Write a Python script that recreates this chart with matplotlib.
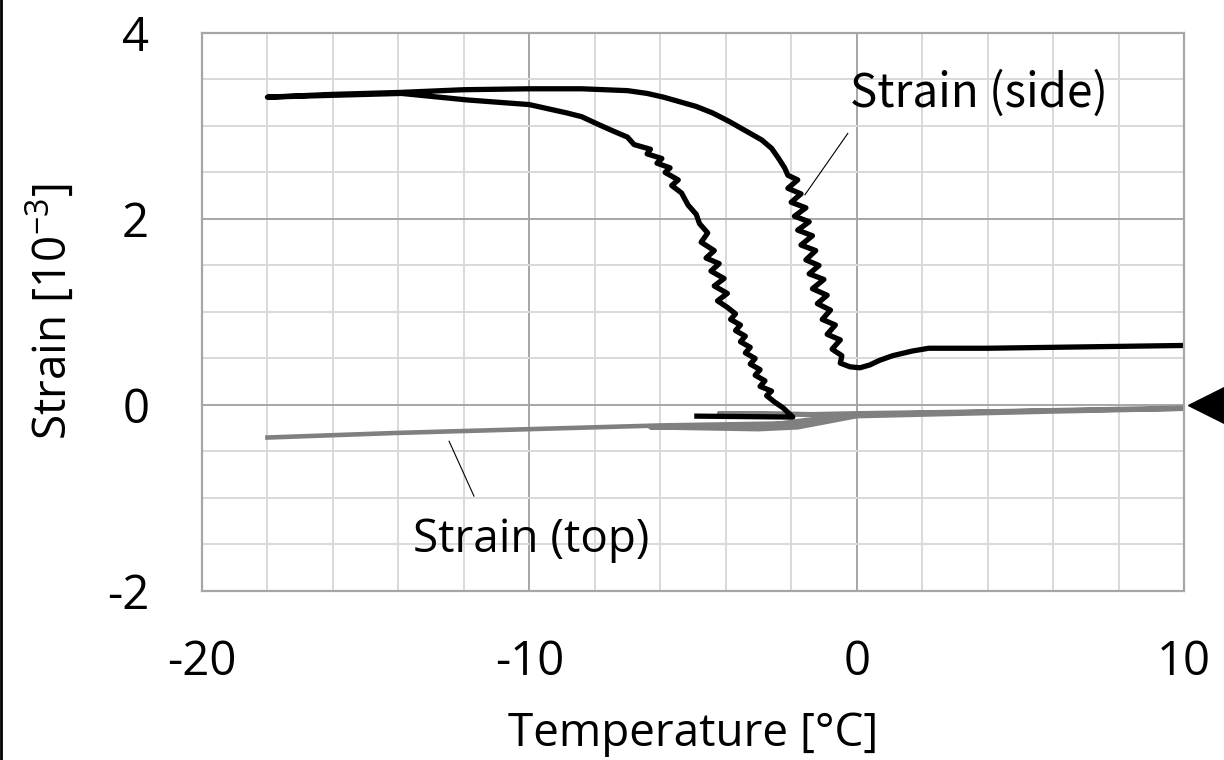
import matplotlib
matplotlib.use('Agg')
import matplotlib.pyplot as plt
from matplotlib.ticker import MultipleLocator
from matplotlib.lines import Line2D

plt.rcParams['font.family'] = ['Open Sans', 'DejaVu Sans']
plt.rcParams['mathtext.default'] = 'regular'
plt.rcParams['axes.unicode_minus'] = False

# === Data ====================================================================
# black loop: Strain (side)
side_temp = [-4.88, -1.95, -2.1, -2.25, -2.5, -2.75, -2.6, -2.95, -2.8, -3.1,
             -2.95, -3.25, -3.1, -3.4, -3.25, -3.55, -3.4, -3.7, -3.55, -3.85,
             -3.7, -3.95, -4.25, -3.95, -4.35, -4.05, -4.45, -4.2, -4.6, -4.35,
             -4.75, -4.55, -4.8, -4.9, -5.15, -5.35, -5.65, -5.45, -5.85, -5.7,
             -6.1, -5.95, -6.4, -6.3, -6.8, -7.0, -7.4, -7.85, -8.4, -8.85,
             -10.0, -11.9, -13.9, -16.0, -18.0,
             -16.0, -14.0, -12.0, -10.0, -8.4, -7.0, -6.4, -5.9, -5.4, -4.9,
             -4.4, -3.9, -3.35, -2.9, -2.6, -2.4, -2.2,
             -2.1, -1.8, -2.1, -1.7, -2.0, -1.55, -1.9, -1.45, -1.8, -1.35,
             -1.7, -1.25, -1.55, -1.15, -1.45, -1.0, -1.35, -0.9, -1.2, -0.8,
             -1.05, -0.65, -0.9, -0.5, -0.75, -0.45, -0.5, -0.2, 0.1, 0.4,
             0.7, 1.1, 1.7, 2.2, 4.0, 6.0, 8.0, 10.0]
side_strain = [-0.12, -0.13, -0.08, -0.03, 0.03, 0.10, 0.15, 0.20, 0.26, 0.32,
               0.38, 0.44, 0.50, 0.56, 0.62, 0.68, 0.74, 0.80, 0.86, 0.92,
               0.98, 1.05, 1.12, 1.20, 1.28, 1.36, 1.44, 1.52, 1.58, 1.66,
               1.75, 1.85, 1.95, 2.05, 2.15, 2.28, 2.36, 2.42, 2.50, 2.55,
               2.60, 2.65, 2.70, 2.75, 2.80, 2.88, 2.94, 3.01, 3.10, 3.14,
               3.23, 3.28, 3.35, 3.33, 3.31,
               3.34, 3.36, 3.39, 3.40, 3.40, 3.38, 3.35, 3.31, 3.26, 3.21,
               3.14, 3.05, 2.94, 2.85, 2.76, 2.66, 2.55,
               2.47, 2.42, 2.33, 2.27, 2.18, 2.12, 2.03, 1.97, 1.88, 1.82,
               1.72, 1.66, 1.56, 1.50, 1.41, 1.35, 1.25, 1.18, 1.09, 1.02,
               0.92, 0.86, 0.76, 0.70, 0.60, 0.53, 0.45, 0.41, 0.40, 0.43,
               0.48, 0.53, 0.58, 0.61, 0.61, 0.62, 0.63, 0.64]

# grey lines: Strain (top)
top_temp = [-18.0, -14.0, -10.0, -6.0, -2.5, -2.0, -1.2, 0.0, 3.0, 6.0, 10.0,
            6.0, 0.0, -1.8, -3.0, -6.3, -3.0, -1.5, 0.0, -1.4, -4.2, -1.4,
            0.0, 4.0, 10.0]
top_strain = [-0.35, -0.30, -0.26, -0.22, -0.20, -0.21, -0.15, -0.10, -0.08,
              -0.06, -0.04, -0.07, -0.12, -0.24, -0.26, -0.24, -0.23, -0.16,
              -0.11, -0.10, -0.09, -0.10, -0.09, -0.07, -0.03]

# =============================================================================
fig = plt.figure(figsize=(12.24, 7.6), dpi=100)
ax = fig.add_axes([0.165, 0.2224, 0.8023, 0.7342])

ax.plot(top_temp, top_strain, c='#808080', lw=3.3, solid_joinstyle='round')
ax.plot(side_temp, side_strain, c='k', lw=3.8, solid_joinstyle='round')

# arrow head marking zero on the right
ax.plot([10.67], [0], marker='<', ms=26, c='k', clip_on=False)

# annotations
ax.text(-0.2, 3.35, 'Strain (side)', fontsize=33, va='center', ha='left',
        family=['Noto Sans CJK JP', 'DejaVu Sans'])
ax.plot([-1.58, -0.27], [2.26, 2.92], c='k', lw=0.8)
ax.text(-13.55, -1.45, 'Strain (top)', fontsize=33, va='center', ha='left')
ax.plot([-12.45, -11.69], [-0.39, -0.98], c='k', lw=0.8)

# Figure cosmetics
ax.set_xlim(-20, 10)
ax.set_ylim(-2, 4)
ax.xaxis.set_major_locator(MultipleLocator(10))
ax.xaxis.set_minor_locator(MultipleLocator(2))
ax.yaxis.set_major_locator(MultipleLocator(2))
ax.yaxis.set_minor_locator(MultipleLocator(0.5))
ax.grid(which='major', color='#a6a6a6', lw=1.4)
ax.grid(which='minor', color='#d9d9d9', lw=1.4)
ax.set_axisbelow(True)
ax.tick_params(which='both', length=0, labelsize=34)
ax.tick_params(axis='x', pad=34)
ax.tick_params(axis='y', pad=38)
for s in ax.spines.values():
    s.set_color('#a6a6a6')
    s.set_linewidth(1.6)

ax.set_xlabel('Temperature [°C]', fontsize=33, labelpad=18)
ax.set_ylabel('Strain [10$^{-3}$]', fontsize=33, labelpad=22)

# black frame line at the left edge of the figure
fig.add_artist(Line2D([0.001, 0.001], [0, 1], color='k', lw=2,
                      transform=fig.transFigure))

plt.savefig('out.png', dpi=100)
plt.close()
